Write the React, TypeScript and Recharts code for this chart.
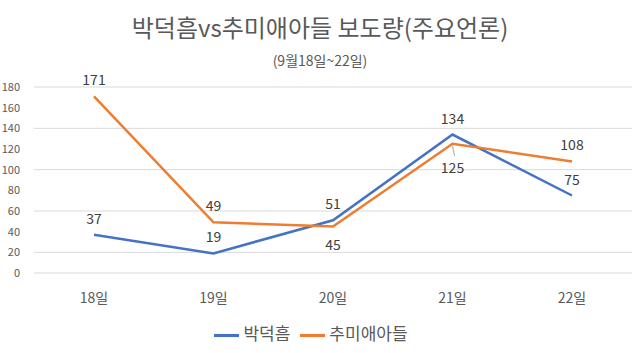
import { LineChart, Line, XAxis, YAxis, CartesianGrid, Legend, LabelList } from 'recharts';

const days = ['18일', '19일', '20일', '21일', '22일'];
const parkValues = [37, 19, 51, 134, 75];
const chuValues = [171, 49, 45, 125, 108];
const yTicks = [0, 20, 40, 60, 80, 100, 120, 140, 160, 180];

// which labels sit under the point (Excel moved them to avoid overlap)
const chuBelow = [false, false, true, true, false];

const data = days.map((d, i) => ({ day: d, park: parkValues[i], chu: chuValues[i] }));

const FONT = '"Noto Sans CJK KR", "Noto Sans", sans-serif';

const makeLabel = (below: boolean[]) => (props: any) => {
  const { x, y, value, index } = props;
  const under = below[index];
  return (
    <g>
      {under && index === 3 && <line x1={x} y1={y + 2} x2={x + 2} y2={y + 12} stroke="#a6a6a6" strokeWidth={1} />}
      <text
        x={x}
        y={under ? y + (index === 3 ? 23 : 17) : y - 17}
        textAnchor="middle"
        dominantBaseline="central"
        fontSize={14}
        fill="#404040"
        fontFamily={FONT}
      >
        {value}
      </text>
    </g>
  );
};

export default function App() {
  return (
    <div style={{ position: 'absolute', left: 0, top: 0, width: 640, height: 353, background: '#fff', fontFamily: FONT }}>
      <div style={{ position: 'absolute', top: 9, width: 640, textAlign: 'center', fontSize: 24, color: '#595959', lineHeight: '36px' }}>
        박덕흠vs추미애아들 보도량(주요언론)
      </div>
      <div style={{ position: 'absolute', top: 50, width: 640, textAlign: 'center', fontSize: 14, color: '#595959', lineHeight: '20px' }}>
        (9월18일~22일)
      </div>
      <LineChart width={640} height={353} data={data} margin={{ top: 87, right: 8, left: 0, bottom: 0 }}>
        <CartesianGrid vertical={false} stroke="#d9d9d9" />
        <XAxis
          dataKey="day"
          padding={{ left: 60, right: 60 }}
          axisLine={false}
          tickLine={false}
          height={40}
          tickMargin={14}
          tick={{ fontSize: 14, fill: '#595959', fontFamily: FONT }}
        />
        <YAxis
          domain={[0, 180]}
          ticks={yTicks}
          width={34}
          axisLine={false}
          tickLine={false}
          tickMargin={8}
          tick={{ fontSize: 11, fill: '#595959', fontFamily: FONT }}
        />
        <Legend
          verticalAlign="bottom"
          iconType="plainline"
          iconSize={25}
          wrapperStyle={{ fontSize: 17, fontFamily: FONT, height: 40, lineHeight: '40px' }}
          formatter={(v: string) => <span style={{ color: '#595959' }}>{v}</span>}
        />
        <Line
          name="박덕흠"
          dataKey="park"
          stroke="#4472C4"
          strokeWidth={2.5}
          dot={false}
          isAnimationActive={false}
        >
          <LabelList dataKey="park" content={makeLabel([false, false, false, false, false])} />
        </Line>
        <Line
          name="추미애아들"
          dataKey="chu"
          stroke="#ED7D31"
          strokeWidth={2.5}
          dot={false}
          isAnimationActive={false}
        >
          <LabelList dataKey="chu" content={makeLabel(chuBelow)} />
        </Line>
      </LineChart>
    </div>
  );
}
